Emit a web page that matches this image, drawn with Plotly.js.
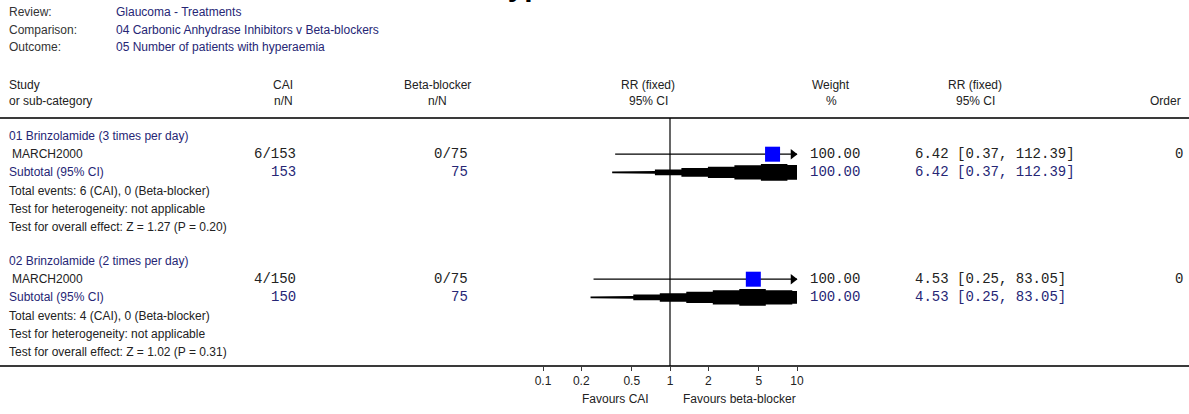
<!DOCTYPE html>
<html><head><meta charset="utf-8">
<script src="https://cdn.plot.ly/plotly-3.0.1.min.js"></script>
<style>html,body{margin:0;padding:0;background:#fff}#chart{width:1189px;height:414px}</style>
</head><body><div id="chart"></div>
<script>
// ---------- data ----------
const reviewLabels = ["Review:", "Comparison:", "Outcome:"];
const reviewValues = ["Glaucoma - Treatments", "04 Carbonic Anhydrase Inhibitors v Beta-blockers", "05 Number of patients with hyperaemia"];
const groupNames = ["01 Brinzolamide (3 times per day)", "02 Brinzolamide (2 times per day)"];
const studyNames = ["MARCH2000", "MARCH2000"];
const caiEvents = [6, 4];
const caiTotals = [153, 150];
const bbEvents = [0, 0];
const bbTotals = [75, 75];
const rrValues = [6.42, 4.53];
const ciLower = [0.37, 0.25];
const ciUpper = [112.39, 83.05];
const weights = [100.00, 100.00];
const orders = [0, 0];
const zValues = [1.27, 1.02];
const pValues = [0.20, 0.31];
const tickValues = [0.1, 0.2, 0.5, 1, 2, 5, 10];
const tickLabels = ["0.1", "0.2", "0.5", "1", "2", "5", "10"];
const favourLabels = ["Favours CAI", "Favours beta-blocker"];
const plotMax = 10;

// ---------- layout helpers ----------
const W = 1189, H = 414;
const pxPerDecade = 127, xOne = 670;
const xr = [(0 - xOne) / pxPerDecade, (W - xOne) / pxPerDecade];
const px = x => x / W;
const sans = "Arial, 'Liberation Sans', sans-serif";
const mono = "'Courier New', 'Liberation Mono', monospace";
const navy = "#262675", ink = "#222";
const sansSize = 12, monoSize = 14;
const groupTop = [136, 261], rowStep = 18.2;
const ann = [];
function txt(x, y, t, opt) {
  opt = opt || {};
  ann.push({xref: "paper", yref: "y", x: px(x), y: y, text: t, showarrow: false,
    xanchor: opt.anchor || "left", yanchor: "middle",
    font: {family: opt.mono ? mono : sans, size: opt.size || (opt.mono ? monoSize : sansSize), color: opt.color || ink}});
}
// title (cut off at top of page, as in the reference)
ann.push({xref: "paper", yref: "y", x: px(484), y: 4, text: "<b>Hyperaemia</b>", showarrow: false,
  xanchor: "left", yanchor: "bottom", font: {family: sans, size: 30, color: "#000"}});
reviewLabels.forEach((l, i) => { txt(7, 12 + i * 17.5, l, {color: "#333"}); txt(114, 12 + i * 17.5, reviewValues[i], {color: navy}); });
// column headers
const hy1 = 85, hy2 = 101;
txt(7, hy1, "Study"); txt(7, hy2, "or sub-category");
txt(283, hy1, "CAI", {anchor: "center"}); txt(283, hy2, "n/N", {anchor: "center"});
txt(437, hy1, "Beta-blocker", {anchor: "center"}); txt(437, hy2, "n/N", {anchor: "center"});
txt(648, hy1, "RR (fixed)", {anchor: "center"}); txt(648, hy2, "95% CI", {anchor: "center"});
txt(831, hy1, "Weight", {anchor: "center"}); txt(831, hy2, "%", {anchor: "center"});
txt(975, hy1, "RR (fixed)", {anchor: "center"}); txt(975, hy2, "95% CI", {anchor: "center"});
txt(1183, hy2, "Order", {anchor: "right"});

const traces = [];
const f2 = v => v.toFixed(2);
groupNames.forEach((g, i) => {
  const y0 = groupTop[i];
  const yStudy = y0 + rowStep, ySub = y0 + 2 * rowStep;
  txt(7, y0, g, {color: navy});
  txt(10, yStudy, studyNames[i]);
  txt(298, yStudy, caiEvents[i] + "/" + caiTotals[i], {mono: true, anchor: "right"});
  txt(470, yStudy, bbEvents[i] + "/" + bbTotals[i], {mono: true, anchor: "right"});
  txt(808, yStudy, f2(weights[i]), {mono: true});
  txt(913, yStudy, f2(rrValues[i]) + " [" + f2(ciLower[i]) + ", " + f2(ciUpper[i]) + "]", {mono: true});
  txt(1185, yStudy, String(orders[i]), {mono: true, anchor: "right"});
  txt(7, ySub, "Subtotal (95% CI)", {color: navy});
  txt(298, ySub, String(caiTotals[i]), {mono: true, anchor: "right", color: navy});
  txt(470, ySub, String(bbTotals[i]), {mono: true, anchor: "right", color: navy});
  txt(808, ySub, f2(weights[i]), {mono: true, color: navy});
  txt(913, ySub, f2(rrValues[i]) + " [" + f2(ciLower[i]) + ", " + f2(ciUpper[i]) + "]", {mono: true, color: navy});
  txt(7, y0 + 3 * rowStep, "Total events: " + caiEvents[i] + " (CAI), " + bbEvents[i] + " (Beta-blocker)");
  txt(7, y0 + 4 * rowStep, "Test for heterogeneity: not applicable");
  txt(7, y0 + 5 * rowStep, "Test for overall effect: Z = " + f2(zValues[i]) + " (P = " + f2(pValues[i]) + ")");

  // CI line, clipped at plotMax with arrow
  const hiShown = Math.min(ciUpper[i], plotMax);
  traces.push({x: [ciLower[i], hiShown], y: [yStudy, yStudy], mode: "lines", line: {color: "#000", width: 1.2}, hoverinfo: "skip"});
  if (ciUpper[i] > plotMax) {
    traces.push({x: [plotMax / Math.pow(10, 4 / pxPerDecade)], y: [yStudy], mode: "markers",
      marker: {symbol: "triangle-right", size: 9, color: "#000"}, hoverinfo: "skip"});
  }
  // study point estimate
  traces.push({x: [rrValues[i]], y: [yStudy], mode: "markers",
    marker: {symbol: "square", size: 15, color: "#0000ff", line: {width: 0}}, hoverinfo: "skip"});
  // stepped pooled diamond (clipped at plotMax)
  const L = Math.log10(ciLower[i]), E = Math.log10(rrValues[i]), U = Math.log10(ciUpper[i]), M = Math.log10(plotMax);
  const w = 26.5 / pxPerDecade, Hd = 17;
  const bounds = [L - 3 / pxPerDecade];
  let b = L + w / 2;
  while (b < M) { bounds.push(b); b += w; }
  bounds.push(M);
  const topX = [], topY = [], botX = [], botY = [];
  for (let k = 0; k < bounds.length - 1; k++) {
    const a = bounds[k], c = bounds[k + 1], m = (a + c) / 2;
    const frac = m < E ? 1 - (E - m) / (E - L) : 1 - (m - E) / (U - E);
    const t = Math.max(1.6, Hd * Math.max(0, frac));
    topX.push(Math.pow(10, a), Math.pow(10, c)); topY.push(ySub - t / 2, ySub - t / 2);
    botX.unshift(Math.pow(10, c), Math.pow(10, a)); botY.unshift(ySub + t / 2, ySub + t / 2);
  }
  traces.push({x: topX.concat(botX), y: topY.concat(botY), mode: "lines", fill: "toself",
    fillcolor: "#000", line: {color: "#000", width: 0}, hoverinfo: "skip"});
});

// favours labels
ann.push({xref: "paper", yref: "y", x: px(651), y: 399, text: favourLabels[0], showarrow: false, xanchor: "right", yanchor: "middle", font: {family: sans, size: 12, color: ink}});
ann.push({xref: "paper", yref: "y", x: px(681), y: 399, text: favourLabels[1], showarrow: false, xanchor: "left", yanchor: "middle", font: {family: sans, size: 12, color: ink}});

const shapes = [
  {type: "line", xref: "paper", yref: "y", x0: 0, x1: 1, y0: 118, y1: 118, line: {color: "#3a3a3a", width: 2}},
  {type: "line", xref: "x", yref: "y", x0: 1, x1: 1, y0: 118, y1: 366, line: {color: "#000", width: 1.2}}
];

const layout = {
  width: W, height: H, margin: {l: 0, r: 0, t: 0, b: 0},
  paper_bgcolor: "#fff", plot_bgcolor: "#fff", showlegend: false,
  xaxis: {type: "log", range: xr, domain: [0, 1], anchor: "free", position: 1 - 366 / H,
    showgrid: false, zeroline: false, showline: true, linecolor: "#3a3a3a", linewidth: 2,
    ticks: "outside", ticklen: 4, tickcolor: "#3a3a3a", tickvals: tickValues, ticktext: tickLabels,
    tickfont: {family: sans, size: 12, color: ink}, fixedrange: true},
  yaxis: {range: [H, 0], domain: [0, 1], visible: false, fixedrange: true},
  annotations: ann, shapes: shapes
};
Plotly.newPlot("chart", traces, layout, {staticPlot: true, displayModeBar: false});
</script></body></html>
